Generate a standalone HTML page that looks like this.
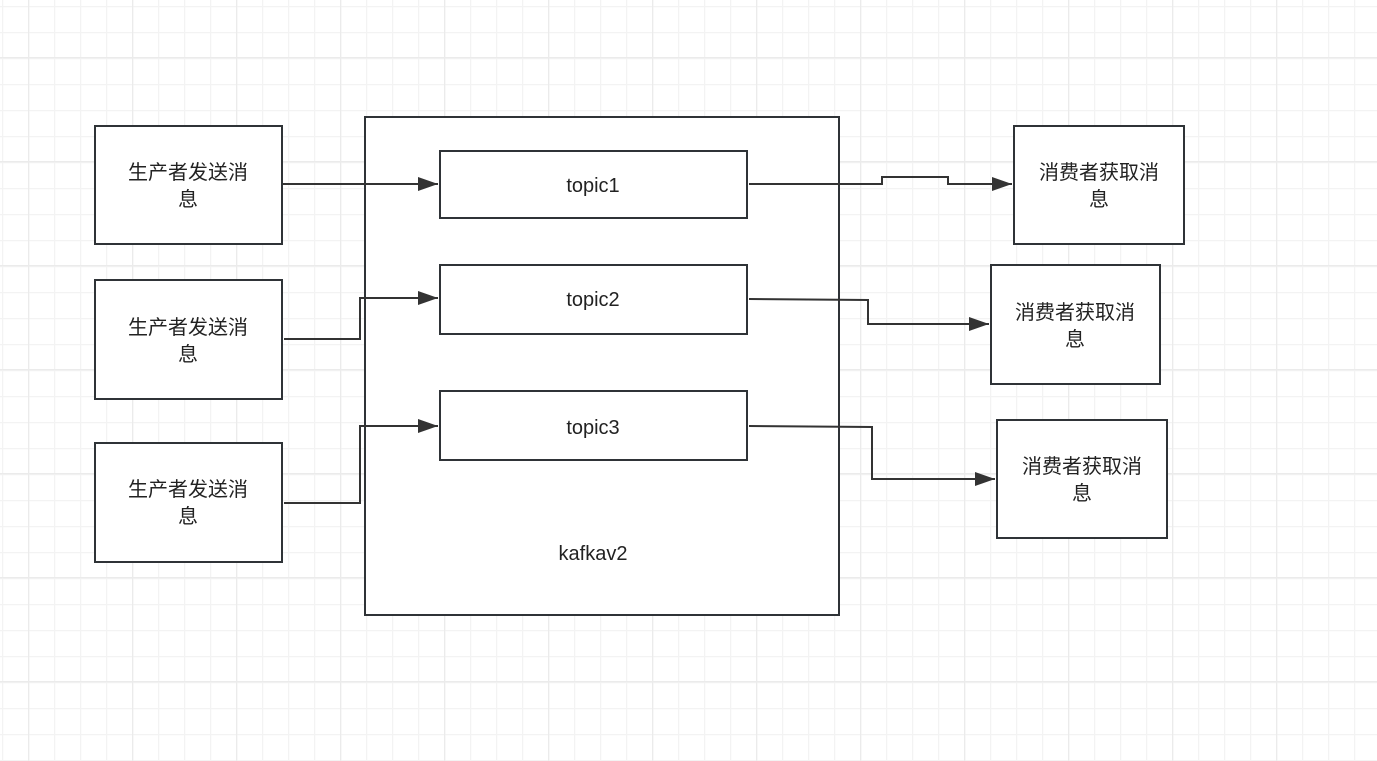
<!DOCTYPE html>
<html><head><meta charset="utf-8"><style>
html,body{margin:0;padding:0;background:#fff;}
svg{display:block}
text{font-family:"Liberation Sans","Noto Sans CJK SC",sans-serif;font-size:20px;fill:#222;}
</style></head><body>
<svg width="1377" height="761" viewBox="0 0 1377 761" xmlns="http://www.w3.org/2000/svg">
<defs>
<pattern id="g" x="2" y="6" width="26" height="26" patternUnits="userSpaceOnUse">
<path d="M0.5 0V26M0 0.5H26" stroke="#f3f3f3" stroke-width="1.5" fill="none"/>
</pattern>
<pattern id="G" x="28" y="57" width="104" height="104" patternUnits="userSpaceOnUse">
<path d="M0.5 0V104M0 0.5H104" stroke="#ebebeb" stroke-width="1.5" fill="none"/>
</pattern>
<marker id="a" markerWidth="20" markerHeight="14" refX="20" refY="7" orient="auto" markerUnits="userSpaceOnUse" viewBox="0 0 20 14">
<path d="M0 0L20 7L0 14Z" fill="#333"/>
</marker>
</defs>
<rect width="1377" height="761" fill="url(#g)"/>
<rect width="1377" height="761" fill="url(#G)"/>
<g stroke="#2f3337" stroke-width="2" fill="#fff">
<rect x="365" y="117" width="474" height="498"/>
<rect x="95" y="126" width="187" height="118"/>
<rect x="95" y="280" width="187" height="119"/>
<rect x="95" y="443" width="187" height="119"/>
<rect x="440" y="151" width="307" height="67"/>
<rect x="440" y="265" width="307" height="69"/>
<rect x="440" y="391" width="307" height="69"/>
<rect x="1014" y="126" width="170" height="118"/>
<rect x="991" y="265" width="169" height="119"/>
<rect x="997" y="420" width="170" height="118"/>
</g>
<g stroke="#333" stroke-width="2" fill="none">
<path d="M283 184H438" marker-end="url(#a)"/>
<path d="M284 339H360V298H438" marker-end="url(#a)"/>
<path d="M284 503H360V426H438" marker-end="url(#a)"/>
<path d="M749 184H882V177H948V184H1012" marker-end="url(#a)"/>
<path d="M749 299L868 300V324H989" marker-end="url(#a)"/>
<path d="M749 426L872 427V479H995" marker-end="url(#a)"/>
</g>
<g text-anchor="middle">
<text x="188" y="179">生产者发送消</text><text x="188" y="206">息</text>
<text x="188" y="334">生产者发送消</text><text x="188" y="361">息</text>
<text x="188" y="496">生产者发送消</text><text x="188" y="523">息</text>
<text x="593" y="192">topic1</text>
<text x="593" y="306">topic2</text>
<text x="593" y="434">topic3</text>
<text x="593" y="560">kafkav2</text>
<text x="1099" y="179">消费者获取消</text><text x="1099" y="206">息</text>
<text x="1075" y="319">消费者获取消</text><text x="1075" y="346">息</text>
<text x="1082" y="473">消费者获取消</text><text x="1082" y="500">息</text>
</g>
</svg>
</body></html>
